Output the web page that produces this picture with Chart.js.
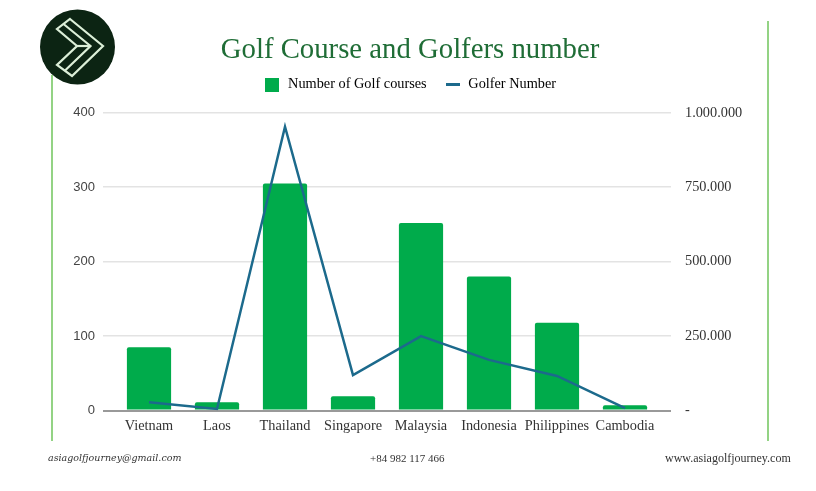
<!DOCTYPE html>
<html><head><meta charset="utf-8">
<script src="https://cdn.jsdelivr.net/npm/chart.js@4/dist/chart.umd.min.js"></script>
<style>
html,body{margin:0;padding:0;background:#fff;width:816px;height:491px;overflow:hidden}
#wrap{position:absolute;left:0;top:0;width:816px;height:491px;filter:blur(0.35px)}
canvas{position:absolute;left:0;top:0}
.vl{position:absolute;width:2px;background:#93d384}
.ft{position:absolute;top:451px;font-size:12px;color:#333;font-family:"Liberation Serif",serif;white-space:nowrap}
svg{position:absolute;left:39px;top:9px}
</style></head><body><div id="wrap">
<canvas id="c" width="816" height="491"></canvas>
<div class="vl" style="left:50.5px;top:75px;height:366px"></div>
<div class="vl" style="left:767px;top:21px;height:420px"></div>
<svg width="77" height="77" viewBox="39 9 77 77">
<circle cx="77.5" cy="47" r="37.5" fill="#0c2413"/>
<g fill="none" stroke="#dcefd8" stroke-width="2.2" stroke-linejoin="miter">
<path d="M70 19 L103 46 L72 76 L57 65 L77 46 L57 29 Z"/>
<path d="M63.5 24 L90.5 46 L64.5 71"/>
<path d="M77 46 L90.5 46"/>
</g></svg>
<div class="ft" style="left:48px;font-style:italic;font-family:'DejaVu Serif',serif;font-size:9.5px;top:452px">asiagolfjourney@gmail.com</div>
<div class="ft" style="left:370px;font-size:11px;top:452px">+84 982 117 466</div>
<div class="ft" style="left:665px">www.asiagolfjourney.com</div>
</div>
<script>
const categories=["Vietnam","Laos","Thailand","Singapore","Malaysia","Indonesia","Philippines","Cambodia"];
const golfCourses=[85,11,305,19,252,180,118,7];
const golferNumber=[28000,5000,953000,119000,250000,170000,116000,8000];
const titleText="Golf Course and Golfers number";
const seriesNames=["Number of Golf courses","Golfer Number"];
const serif='"Liberation Serif",serif';
const grey='#e3e3e3', axisGrey='#999999', barColor='#00ab4b', lineColor='#1c6a8c';
function swatch(w,h,color){const c=document.createElement('canvas');c.width=w;c.height=h;const x=c.getContext('2d');x.fillStyle=color;x.fillRect(0,0,w,h);return c;}
const legendGap={id:'legendGap',beforeLayout(ch){const l=ch.legend;if(l&&!l._wrapped){const f=l.fit;l.fit=function(){f.call(this);this.height+=11;};l._wrapped=true;}}};
new Chart(document.getElementById('c'),{
 plugins:[legendGap],
 data:{labels:categories,datasets:[
  {type:'line',label:seriesNames[1],data:golferNumber,yAxisID:'y2',borderColor:lineColor,backgroundColor:lineColor,borderWidth:2.5,pointRadius:0,tension:0,order:0},
  {type:'bar',label:seriesNames[0],data:golfCourses,yAxisID:'y',backgroundColor:barColor,barPercentage:0.65,categoryPercentage:1,borderRadius:{topLeft:2,topRight:2},order:1}
 ]},
 options:{responsive:false,animation:false,devicePixelRatio:1,
  layout:{padding:{left:4,right:0,top:39,bottom:50.5}},
  plugins:{
   title:{display:true,text:titleText,color:'#1f6d36',font:{family:serif,size:28.75,weight:'normal',lineHeight:0.8},padding:{top:0,bottom:-2}},
   legend:{display:true,labels:{color:'#333',font:{family:serif,size:14.3},usePointStyle:true,pointStyleWidth:17,padding:17.5,
     generateLabels(ch){return [
       {text:seriesNames[0],pointStyle:swatch(14,14,barColor),fillStyle:barColor,strokeStyle:barColor,lineWidth:0,datasetIndex:1},
       {text:seriesNames[1],pointStyle:swatch(14,3,lineColor),fillStyle:lineColor,strokeStyle:lineColor,lineWidth:0,datasetIndex:0}];}}},
   tooltip:{enabled:false}
  },
  scales:{
   x:{afterFit(s){s.height=30;},grid:{display:false,drawTicks:false},border:{color:axisGrey,width:2},ticks:{color:'#333',font:{family:serif,size:14.3},padding:7,autoSkip:false,maxRotation:0}},
   y:{position:'left',min:0,max:400,afterFit(s){s.width=111;},
      grid:{color:c=>c.tick.value===0?axisGrey:grey,lineWidth:c=>c.tick.value===0?2:1.5,drawTicks:true,tickLength:12,tickColor:c=>c.tick.value===0?axisGrey:grey},border:{display:false},
      ticks:{stepSize:100,color:'#444',font:{family:'"Liberation Sans",sans-serif',size:13},padding:8}},
   y2:{position:'right',min:0,max:1000000,afterFit(s){s.width=157;},
      grid:{drawOnChartArea:false,drawTicks:true,tickLength:12,tickColor:c=>c.tick.value===0?axisGrey:grey,lineWidth:c=>c.tick.value===0?2:1.5},border:{display:false},
      ticks:{stepSize:250000,color:'#333',font:{family:serif,size:14.3},padding:14,
       callback(v){return v===0?'-':String(v).replace(/\B(?=(\d{3})+$)/g,'.');}}}
  }
 }
});
</script></body></html>
